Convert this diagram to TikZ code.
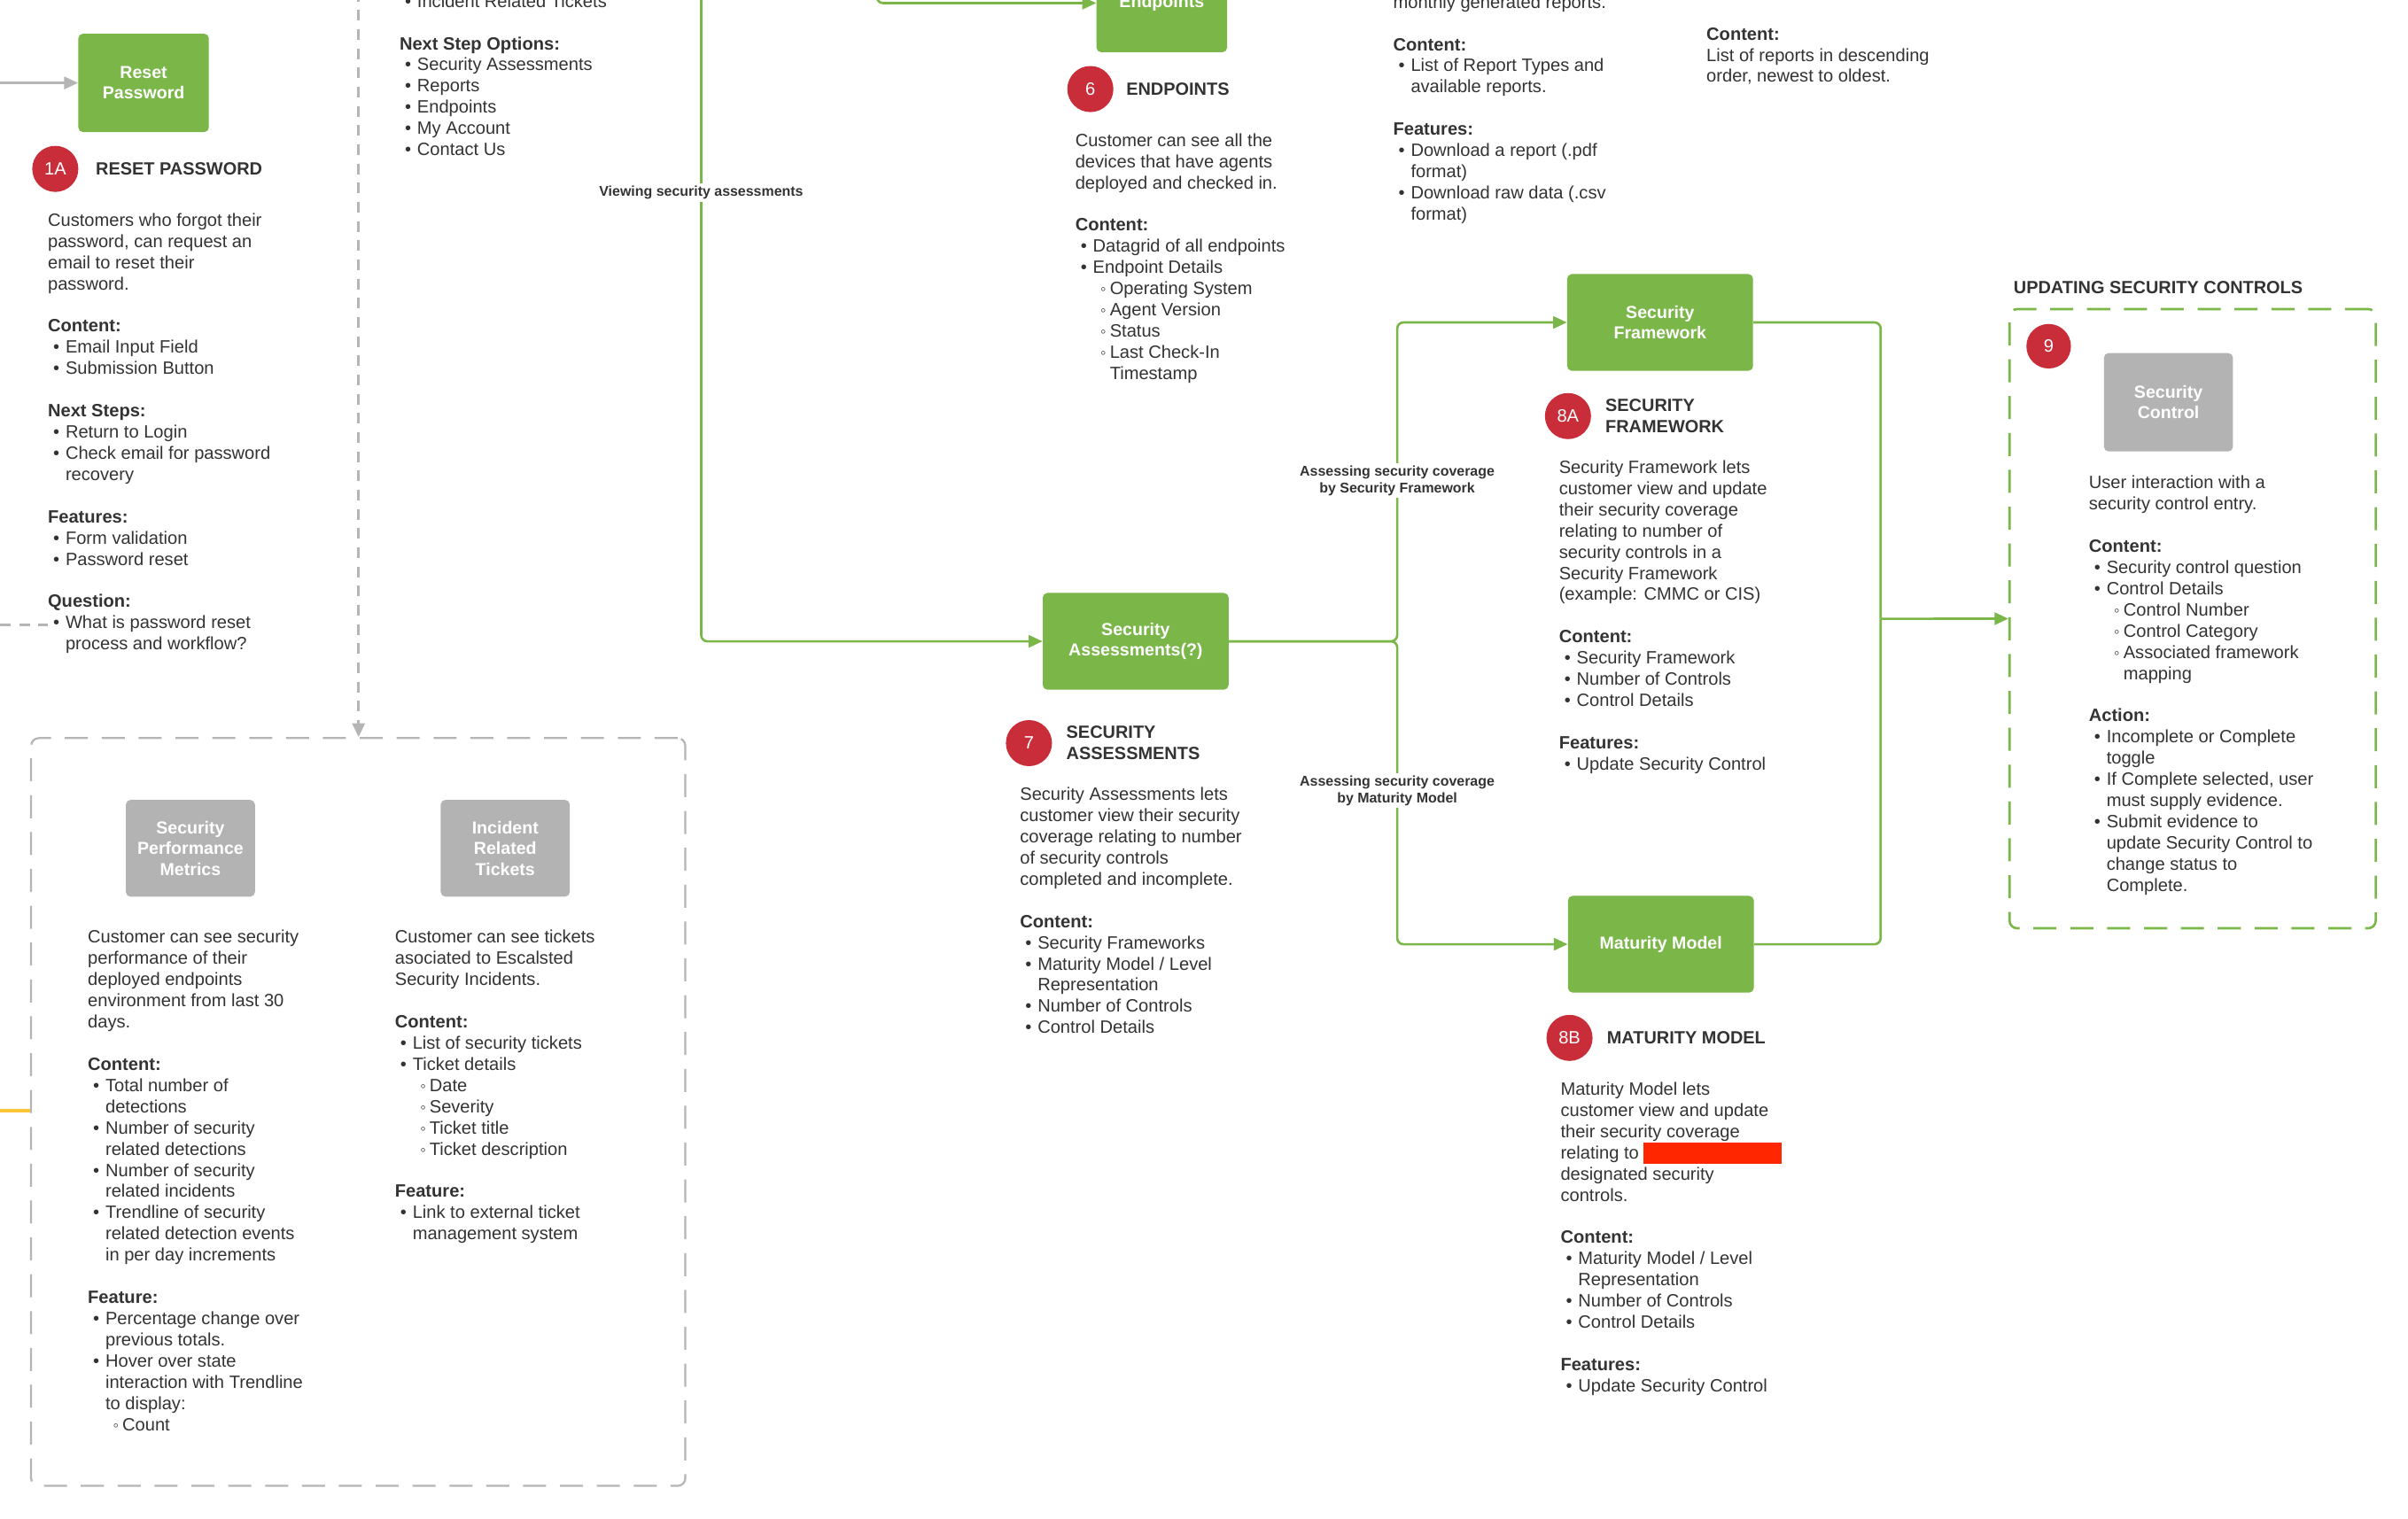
\documentclass[tikz,border=0pt]{standalone}
\usepackage{fontspec}
\setmainfont{Liberation Sans}
\usetikzlibrary{arrows.meta, positioning}
\definecolor{lcgreen}{HTML}{7AB648}
\definecolor{lcred}{HTML}{C92D39}
\definecolor{lcgray}{HTML}{B3B3B3}
\definecolor{lcline}{HTML}{B5B5B5}
\definecolor{lcyellow}{HTML}{FCC438}
\definecolor{lctext}{HTML}{333333}
\definecolor{redact}{HTML}{FF2600}
\newcommand{\txtfont}{\fontsize{11.6}{13.8}\selectfont}
\newcommand{\hdfont}{\fontsize{11.5}{14}\selectfont\bfseries}
\newcommand{\bxfont}{\fontsize{11.3}{13.5}\selectfont\bfseries}
\newcommand{\lbfont}{\fontsize{9.2}{11}\selectfont\bfseries}
\newcommand{\litem}{\hspace*{3.5pt}\makebox[8pt][l]{\textbullet}}
\newcommand{\lcont}{\hspace*{11.5pt}}
\newcommand{\slitem}{\hspace*{14pt}\makebox[8.5pt][c]{\fontsize{10.5}{10}\selectfont ◦}}
\newcommand{\slcont}{\hspace*{22.5pt}}
\begin{document}
\begin{tikzpicture}[
    x=1pt, y=-1pt,
    greenbox/.style={fill=lcgreen, rounded corners=3pt, text=white, font=\bxfont, align=center, inner sep=0pt, minimum width=121pt, minimum height=63pt},
    greybox/.style={fill=lcgray, rounded corners=3pt, text=white, font=\bxfont, align=center, inner sep=0pt, minimum width=84pt, minimum height=63pt},
    badge/.style={circle, fill=lcred, text=white, font=\txtfont, minimum size=30pt, inner sep=0pt},
    head/.style={font=\hdfont, text=lctext, align=left, inner sep=0pt},
    desc/.style={font=\txtfont, text=lctext, align=left, anchor=north west, inner sep=0pt, yshift=8.3pt, execute at begin node={\rule{0pt}{10pt}}},
    lbl/.style={font=\lbfont, text=lctext, fill=white, align=center, inner sep=1.5pt},
    flow/.style={lcgreen, line width=1.5pt, rounded corners=4pt},
    arr/.style={-{Triangle[length=9pt, width=8pt]}},
    dashline/.style={lcline, line width=2pt, dash pattern=on 7pt off 5.5pt},
    grpgray/.style={draw=lcline, line width=1.3pt, dash pattern=on 15pt off 9pt, rounded corners=5pt, inner sep=0pt},
    grpgreen/.style={draw=lcgreen, line width=1.5pt, dash pattern=on 15pt off 9pt, rounded corners=5pt, inner sep=0pt}
]
% frame of the screenshot
\useasboundingbox (0,0) rectangle (1568,989);
\fill[white] (0,0) rectangle (1568,989);
\clip (0,0) rectangle (1568,989);

% Reset password (1A)
\node[greenbox, minimum width=85pt, minimum height=64pt] (rp) at (93.5,54) {Reset\\Password};
\node[badge] (b1a) at (36,110) {1A};
\node[head, right=11pt of b1a] (h1a) {RESET PASSWORD};
\node[desc] (d1a) at (31,147) {Customers who forgot their\\
password, can request an\\
email to reset their\\
password.\\[13.8pt]
\textbf{Content:}\\
\litem Email Input Field\\
\litem Submission Button\\[13.8pt]
\textbf{Next Steps:}\\
\litem Return to Login\\
\litem Check email for password\\
\lcont recovery\\[13.8pt]
\textbf{Features:}\\
\litem Form validation\\
\litem Password reset\\[13.8pt]
\textbf{Question:}\\
\litem What is password reset\\
\lcont process and workflow?};

% Dashboard sub-pages
\node[grpgray, minimum width=426pt, minimum height=487pt] (grp) at (233.25,724.25) {};
\node[greybox] (spm) at (124,552.5) {Security\\Performance\\Metrics};
\node[greybox] (irt) at (329,552.5) {Incident\\Related\\Tickets};
\node[desc] (dspm) at (57,614) {Customer can see security\\
performance of their\\
deployed endpoints\\
environment from last 30\\
days.\\[13.8pt]
\textbf{Content:}\\
\litem Total number of\\
\lcont detections\\
\litem Number of security\\
\lcont related detections\\
\litem Number of security\\
\lcont related incidents\\
\litem Trendline of security\\
\lcont related detection events\\
\lcont in per day increments\\[13.8pt]
\textbf{Feature:}\\
\litem Percentage change over\\
\lcont previous totals.\\
\litem Hover over state\\
\lcont interaction with Trendline\\
\lcont to display:\\
\slitem Count};
\node[desc] (dirt) at (257,614) {Customer can see tickets\\
asociated to Escalsted\\
Security Incidents.\\[13.8pt]
\textbf{Content:}\\
\litem List of security tickets\\
\litem Ticket details\\
\slitem Date\\
\slitem Severity\\
\slitem Ticket title\\
\slitem Ticket description\\[13.8pt]
\textbf{Feature:}\\
\litem Link to external ticket\\
\lcont management system};

% Next step options
\node[desc] (dnext) at (260,4.4) {\litem Incident Related Tickets\\[13.8pt]
\textbf{Next Step Options:}\\
\litem Security Assessments\\
\litem Reports\\
\litem Endpoints\\
\litem My Account\\
\litem Contact Us};

% Endpoints (6)
\node[greenbox, minimum width=85pt, minimum height=64pt] (ep) at (756.5,2) {Endpoints};
\node[badge] (b6) at (710,58) {6};
\node[head, right=8pt of b6] (h6) {ENDPOINTS};
\node[desc] (d6) at (700,95) {Customer can see all the\\
devices that have agents\\
deployed and checked in.\\[13.8pt]
\textbf{Content:}\\
\litem Datagrid of all endpoints\\
\litem Endpoint Details\\
\slitem Operating System\\
\slitem Agent Version\\
\slitem Status\\
\slitem Last Check-In\\
\slcont Timestamp};

% Reports
\node[desc] (drep) at (907,5) {monthly generated reports.\\[13.8pt]
\textbf{Content:}\\
\litem List of Report Types and\\
\lcont available reports.\\[13.8pt]
\textbf{Features:}\\
\litem Download a report (.pdf\\
\lcont format)\\
\litem Download raw data (.csv\\
\lcont format)};
\node[desc] (dlist) at (1111,26) {\textbf{Content:}\\
List of reports in descending\\
order, newest to oldest.};

% Security assessments (7)
\node[greenbox] (sa) at (739.5,417.7) {Security\\Assessments(?)};
\node[badge] (b7) at (670,484) {7};
\node[head, right=9pt of b7] (h7) {SECURITY\\ASSESSMENTS};
\node[desc] (d7) at (664,521) {Security Assessments lets\\
customer view their security\\
coverage relating to number\\
of security controls\\
completed and incomplete.\\[13.8pt]
\textbf{Content:}\\
\litem Security Frameworks\\
\litem Maturity Model / Level\\
\lcont Representation\\
\litem Number of Controls\\
\litem Control Details};

% Security framework (8A)
\node[greenbox] (sf) at (1081,210) {Security\\Framework};
\node[badge] (b8a) at (1021,271) {8A};
\node[head, right=9pt of b8a] (h8a) {SECURITY\\FRAMEWORK};
\node[desc] (d8a) at (1015,308) {Security Framework lets\\
customer view and update\\
their security coverage\\
relating to number of\\
security controls in a\\
Security Framework\\
(example: CMMC or CIS)\\[13.8pt]
\textbf{Content:}\\
\litem Security Framework\\
\litem Number of Controls\\
\litem Control Details\\[13.8pt]
\textbf{Features:}\\
\litem Update Security Control};

% Maturity model (8B)
\node[greenbox] (mm) at (1081.5,615) {Maturity Model};
\node[badge] (b8b) at (1022,676) {8B};
\node[head, right=9pt of b8b] (h8b) {MATURITY MODEL};
\node[desc] (d8b) at (1016,713) {Maturity Model lets\\
customer view and update\\
their security coverage\\
relating to \textcolor{redact}{\rule[-3.5pt]{90pt}{14pt}}\\
designated security\\
controls.\\[13.8pt]
\textbf{Content:}\\
\litem Maturity Model / Level\\
\lcont Representation\\
\litem Number of Controls\\
\litem Control Details\\[13.8pt]
\textbf{Features:}\\
\litem Update Security Control};

% Updating security controls (9)
\node[head, anchor=west] (tupd) at (1311,187.5) {UPDATING SECURITY CONTROLS};
\node[grpgreen, minimum width=238.5pt, minimum height=403.3pt] (upd) at (1427.75,402.95) {};
\node[badge, minimum size=29pt] (b9) at (1334,225.5) {9};
\node[greybox, minimum height=64pt] (sc) at (1412,262) {Security\\Control};
\node[desc] (d9) at (1360,318) {User interaction with a\\
security control entry.\\[13.8pt]
\textbf{Content:}\\
\litem Security control question\\
\litem Control Details\\
\slitem Control Number\\
\slitem Control Category\\
\slitem Associated framework\\
\slcont mapping\\[13.8pt]
\textbf{Action:}\\
\litem Incomplete or Complete\\
\lcont toggle\\
\litem If Complete selected, user\\
\lcont must supply evidence.\\
\litem Submit evidence to\\
\lcont update Security Control to\\
\lcont change status to\\
\lcont Complete.};

% connectors on the left
\coordinate (inrp) at (0,54);
\draw[lcline, line width=1.5pt, arr] (inrp) -- (rp.west);
\coordinate (qin) at (0,407);
\coordinate (qout) at (31,407);
\draw[dashline] (qin) -- (qout);
\coordinate (dtop) at (233.5,-6);
\draw[dashline, arr] (dtop) -- (dtop |- grp.north);
\coordinate (yin) at (0,723.5);
\draw[lcyellow, line width=2pt] (yin) -- (yin -| grp.west);

% green flow
\coordinate (epin) at (571,-12);
\draw[flow, arr] (epin) |- (ep.west);
\coordinate (vin) at (456.6,-12);
\draw[flow, arr] (vin) |- (sa.west);
\node[lbl] (lview) at (456.6,125.5) {Viewing security assessments};
\coordinate (jl) at (909.8,417.7);
\draw[flow, arr] (sa.east) -- (jl) |- (sf.west);
\draw[flow, arr] (sa.east) -- (jl) |- (mm.west);
\node[lbl] (lsf) at (909.8,313) {Assessing security coverage\\by Security Framework};
\node[lbl] (lmm) at (909.8,515) {Assessing security coverage\\by Maturity Model};
\coordinate (jr) at (1224.6,403);
\draw[flow] (sf.east) -| (jr);
\draw[flow] (mm.east) -| (jr);
\draw[flow, arr] (jr) -- (upd.west);
\end{tikzpicture}
\end{document}
